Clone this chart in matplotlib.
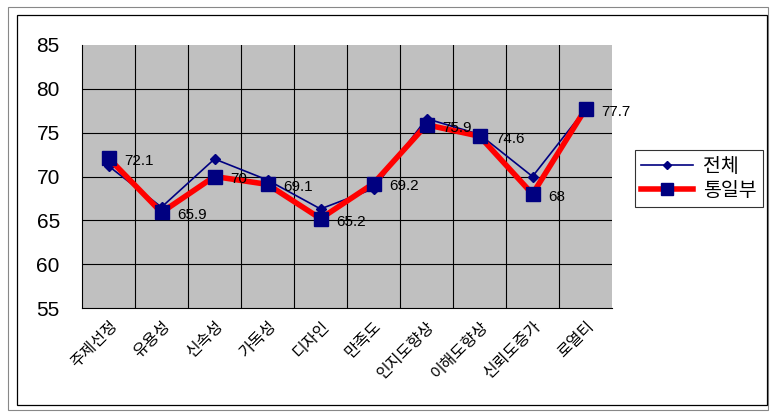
import matplotlib
matplotlib.use("Agg")
import matplotlib.pyplot as plt
from matplotlib.patches import Rectangle
import matplotlib.transforms as mtransforms

plt.rcParams['font.family'] = ['Noto Sans CJK KR', 'DejaVu Sans']

categories = ['주제선정', '유용성', '신속성', '가독성', '디자인', '만족도', '인지도향상', '이해도향상', '신뢰도증가', '로열티']
total = [71.2, 66.5, 72.0, 69.6, 66.3, 68.6, 76.6, 74.8, 70.0, 77.7]
unification = [72.1, 65.9, 70, 69.1, 65.2, 69.2, 75.9, 74.6, 68, 77.7]
labels_uni = ['72.1', '65.9', '70', '69.1', '65.2', '69.2', '75.9', '74.6', '68', '77.7']
series_names = ['전체', '통일부']
yticks = [55, 60, 65, 70, 75, 80, 85]

fig = plt.figure(figsize=(7.7, 4.16), dpi=100)
W, H = 770, 416
# outer frames
fig.patches.append(Rectangle((8 / W, 1 - 410 / H), 760 / W, 403 / H, transform=fig.transFigure,
                             fill=False, edgecolor='#888888', lw=0.8))
fig.patches.append(Rectangle((17 / W, 1 - 405 / H), 750 / W, 390 / H, transform=fig.transFigure,
                             fill=False, edgecolor='black', lw=0.9))

ax = fig.add_axes([82 / W, 1 - 308 / H, 530 / W, 263 / H])
ax.set_facecolor('#c0c0c0')
x = list(range(len(categories)))
ax.set_xlim(-0.5, len(categories) - 0.5)
ax.set_ylim(55, 85)
ax.set_yticks(yticks)
ax.set_yticklabels([str(v) for v in yticks], fontsize=15, family=['Liberation Sans'])
for y in yticks[1:-1]:
    ax.axhline(y, color='black', lw=0.8, zorder=1)
for i in range(1, len(categories)):
    ax.axvline(i - 0.5, color='black', lw=0.8, zorder=1)
ax.set_xticks(x)
ax.set_xticklabels(categories, rotation=45, ha='right', rotation_mode='anchor', fontsize=11.5)
offset = mtransforms.ScaledTranslation(-6 / 100, 0, fig.dpi_scale_trans)
for lbl in ax.get_xticklabels():
    lbl.set_transform(lbl.get_transform() + offset)
ax.tick_params(axis='x', length=0, pad=7)
ax.tick_params(axis='y', length=0, pad=16)
for s in ['top', 'right']:
    ax.spines[s].set_visible(False)
ax.spines['left'].set_color('black')
ax.spines['bottom'].set_color('black')

ax.plot(x, total, color='#000080', lw=1.2, marker='D', markersize=5, label=series_names[0], zorder=3)
ax.plot(x, unification, color='#ff0000', lw=4, marker='s', markersize=10,
        markerfacecolor='#000080', markeredgecolor='#000080', label=series_names[1], zorder=4)
for xi, yi, t in zip(x, unification, labels_uni):
    ax.annotate(t, (xi, yi), xytext=(11, -5), textcoords='offset points', fontsize=11,
                family=['Liberation Sans'], zorder=5)

leg = fig.legend(loc='upper left', bbox_to_anchor=(635 / W, 1 - 150 / H), fontsize=14,
                 frameon=True, fancybox=False, edgecolor='black', handlelength=2.7,
                 borderpad=0.3, labelspacing=0.15, handletextpad=0.5, borderaxespad=0,
                 markerscale=0.8)
leg.get_frame().set_linewidth(0.8)

fig.savefig('out.png', dpi=100)
